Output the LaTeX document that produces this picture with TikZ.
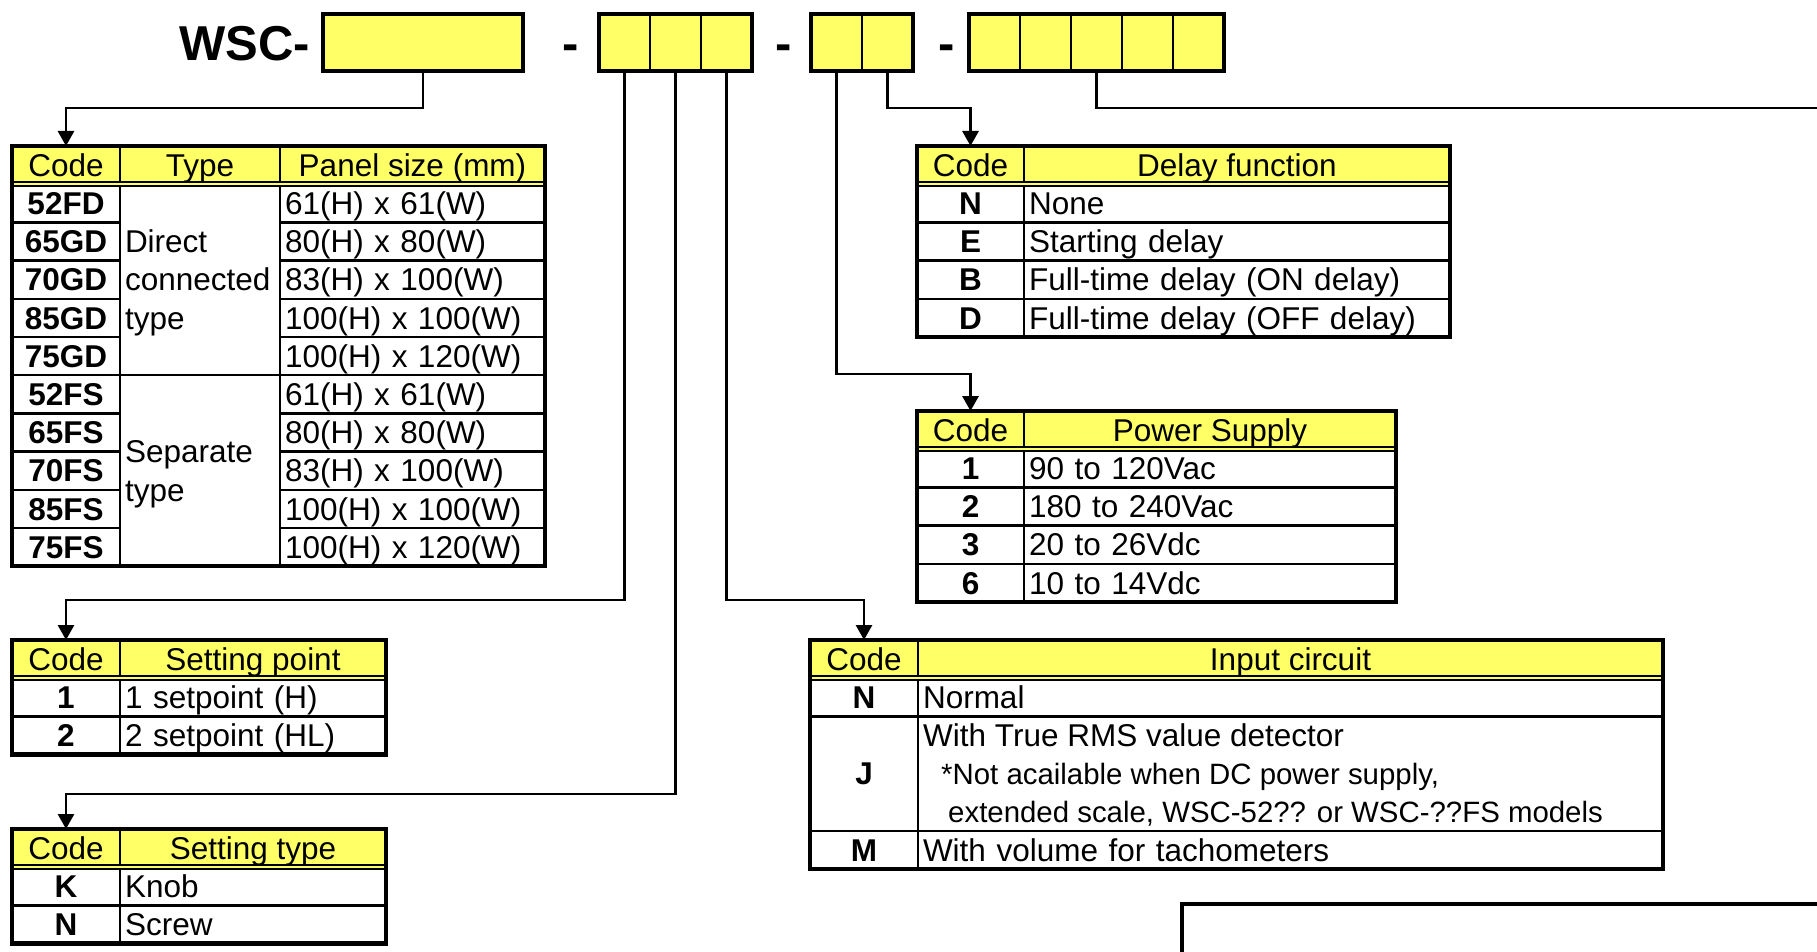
\documentclass[tikz,border=0pt]{standalone}
\usepackage{fontspec}
\setmainfont{Liberation Sans}
\usetikzlibrary{arrows.meta,fit}
\definecolor{hdr}{RGB}{255,255,102}
\newcommand{\tabfont}{\fontsize{31.5}{38.2}\selectfont}
\newcommand{\notefont}{\fontsize{29.4}{38.2}\selectfont}
\newcommand{\partfont}{\fontsize{49}{58}\selectfont\bfseries}

\begin{document}
\begin{tikzpicture}[x=1pt,y=-1pt,line join=miter]
    % `slot' is one yellow box of the part number.
    % `head' is a header cell, `cell' a body cell, `key' a bold code cell.
    % `frame' is the thick border round a table, `wire' the connectors.
    \tikzstyle{slot} = [draw,fill=hdr,line width=2.5pt,anchor=north west,minimum width=51pt,minimum height=57pt,inner sep=0pt,outer sep=0pt]
    \tikzstyle{head} = [draw,fill=hdr,line width=2.5pt,anchor=north west,minimum height=38.2pt,inner sep=0pt,outer sep=0pt,font=\tabfont,text height=22.5pt,text depth=0pt]
    \tikzstyle{cell} = [draw,fill=white,line width=2.5pt,anchor=north west,minimum height=38.2pt,inner xsep=5pt,inner ysep=0pt,outer sep=0pt,font=\tabfont,text height=22.5pt,text depth=0pt,align=left]
    \tikzstyle{key} = [cell,font=\tabfont\bfseries,inner xsep=0pt,align=center]
    \tikzstyle{frame} = [draw,line width=4.5pt,inner sep=0pt]
    \tikzstyle{hyph} = [anchor=base,inner sep=0pt,font=\partfont]
    \tikzstyle{lead} = [line width=2.9pt]
    \tikzstyle{wire} = [lead,-{Triangle[length=15pt,width=16pt]}]
    \useasboundingbox (0,0) rectangle (1817,952);
    %
    % Part number
    \node[anchor=base east,inner sep=0pt,font=\partfont] (wsc) at (310,61) {WSC-};
    \node[slot,minimum width=200pt] (sA) at (323,14) {};
    \node[hyph] (dashA) at (571,61) {-};
    \node[slot] (sB1) at (599,14) {};
    \node[slot] (sB2) at (sB1.north east) {};
    \node[slot] (sB3) at (sB2.north east) {};
    \node[hyph] (dashB) at (784,61) {-};
    \node[slot] (sC1) at (811,14) {};
    \node[slot] (sC2) at (sC1.north east) {};
    \node[hyph] (dashC) at (947,61) {-};
    \node[slot] (sD1) at (969,14) {};
    \node[slot] (sD2) at (sD1.north east) {};
    \node[slot] (sD3) at (sD2.north east) {};
    \node[slot] (sD4) at (sD3.north east) {};
    \node[slot] (sD5) at (sD4.north east) {};
    \node[frame,fit=(sA)] (sABox) {};
    \node[frame,fit=(sB1)(sB3)] (sBBox) {};
    \node[frame,fit=(sC1)(sC2)] (sCBox) {};
    \node[frame,fit=(sD1)(sD5)] (sDBox) {};
    %
    % Panel size
    \node[head,minimum width=108pt] (pnHc) at (12,146) {Code};
    \node[head,minimum width=160pt] (pnHt) at (pnHc.north east) {Type};
    \node[head,minimum width=265pt] (pnHs) at (pnHt.north east) {Panel size (mm)};
    \node[key,minimum width=108pt] (pn1c) at (pnHc.south west) {52FD};
    \node[key,minimum width=108pt] (pn2c) at (pn1c.south west) {65GD};
    \node[key,minimum width=108pt] (pn3c) at (pn2c.south west) {70GD};
    \node[key,minimum width=108pt] (pn4c) at (pn3c.south west) {85GD};
    \node[key,minimum width=108pt] (pn5c) at (pn4c.south west) {75GD};
    \node[key,minimum width=108pt] (pn6c) at (pn5c.south west) {52FS};
    \node[key,minimum width=108pt] (pn7c) at (pn6c.south west) {65FS};
    \node[key,minimum width=108pt] (pn8c) at (pn7c.south west) {70FS};
    \node[key,minimum width=108pt] (pn9c) at (pn8c.south west) {85FS};
    \node[key,minimum width=108pt] (pn10c) at (pn9c.south west) {75FS};
    \node[cell,minimum width=160pt,text width=150pt,minimum height=191pt,text depth=76.4pt] (pnT1) at (pn1c.north east) {Direct\\connected\\type};
    \node[cell,minimum width=160pt,text width=150pt,minimum height=191pt,text depth=38.2pt] (pnT2) at (pn6c.north east) {Separate\\type};
    \node[cell,minimum width=265pt,text width=255pt] (pn1s) at (pnHs.south west) {61(H) x 61(W)};
    \node[cell,minimum width=265pt,text width=255pt] (pn2s) at (pn1s.south west) {80(H) x 80(W)};
    \node[cell,minimum width=265pt,text width=255pt] (pn3s) at (pn2s.south west) {83(H) x 100(W)};
    \node[cell,minimum width=265pt,text width=255pt] (pn4s) at (pn3s.south west) {100(H) x 100(W)};
    \node[cell,minimum width=265pt,text width=255pt] (pn5s) at (pn4s.south west) {100(H) x 120(W)};
    \node[cell,minimum width=265pt,text width=255pt] (pn6s) at (pn5s.south west) {61(H) x 61(W)};
    \node[cell,minimum width=265pt,text width=255pt] (pn7s) at (pn6s.south west) {80(H) x 80(W)};
    \node[cell,minimum width=265pt,text width=255pt] (pn8s) at (pn7s.south west) {83(H) x 100(W)};
    \node[cell,minimum width=265pt,text width=255pt] (pn9s) at (pn8s.south west) {100(H) x 100(W)};
    \node[cell,minimum width=265pt,text width=255pt] (pn10s) at (pn9s.south west) {100(H) x 120(W)};
    \draw[line width=6pt] (pnHc.south west) -- (pnHs.south east);
    \draw[hdr,line width=2pt] (pnHc.south west) -- (pnHs.south east);
    \node[frame,fit=(pnHc)(pn10s)] (pnBox) {};
    %
    % Setting point
    \node[head,minimum width=108pt] (spHc) at (12,640) {Code};
    \node[head,minimum width=266pt] (spHd) at (spHc.north east) {Setting point};
    \node[key,minimum width=108pt] (sp1c) at (spHc.south west) {1};
    \node[cell,minimum width=266pt,text width=256pt] (sp1d) at (sp1c.north east) {1 setpoint (H)};
    \node[key,minimum width=108pt] (sp2c) at (sp1c.south west) {2};
    \node[cell,minimum width=266pt,text width=256pt] (sp2d) at (sp2c.north east) {2 setpoint (HL)};
    \draw[line width=6pt] (spHc.south west) -- (spHd.south east);
    \draw[hdr,line width=2pt] (spHc.south west) -- (spHd.south east);
    \node[frame,fit=(spHc)(sp2d)] (spBox) {};
    %
    % Setting type
    \node[head,minimum width=108pt] (stHc) at (12,829) {Code};
    \node[head,minimum width=266pt] (stHd) at (stHc.north east) {Setting type};
    \node[key,minimum width=108pt] (st1c) at (stHc.south west) {K};
    \node[cell,minimum width=266pt,text width=256pt] (st1d) at (st1c.north east) {Knob};
    \node[key,minimum width=108pt] (st2c) at (st1c.south west) {N};
    \node[cell,minimum width=266pt,text width=256pt] (st2d) at (st2c.north east) {Screw};
    \draw[line width=6pt] (stHc.south west) -- (stHd.south east);
    \draw[hdr,line width=2pt] (stHc.south west) -- (stHd.south east);
    \node[frame,fit=(stHc)(st2d)] (stBox) {};
    %
    % Delay function
    \node[head,minimum width=107pt] (dlHc) at (917,146) {Code};
    \node[head,minimum width=426pt] (dlHd) at (dlHc.north east) {Delay function};
    \node[key,minimum width=107pt] (dl1c) at (dlHc.south west) {N};
    \node[cell,minimum width=426pt,text width=416pt] (dl1d) at (dl1c.north east) {None};
    \node[key,minimum width=107pt] (dl2c) at (dl1c.south west) {E};
    \node[cell,minimum width=426pt,text width=416pt] (dl2d) at (dl2c.north east) {Starting delay};
    \node[key,minimum width=107pt] (dl3c) at (dl2c.south west) {B};
    \node[cell,minimum width=426pt,text width=416pt] (dl3d) at (dl3c.north east) {Full-time delay (ON delay)};
    \node[key,minimum width=107pt] (dl4c) at (dl3c.south west) {D};
    \node[cell,minimum width=426pt,text width=416pt] (dl4d) at (dl4c.north east) {Full-time delay (OFF delay)};
    \draw[line width=6pt] (dlHc.south west) -- (dlHd.south east);
    \draw[hdr,line width=2pt] (dlHc.south west) -- (dlHd.south east);
    \node[frame,fit=(dlHc)(dl4d)] (dlBox) {};
    %
    % Power supply
    \node[head,minimum width=107pt] (psHc) at (917,411) {Code};
    \node[head,minimum width=372pt] (psHd) at (psHc.north east) {Power Supply};
    \node[key,minimum width=107pt] (ps1c) at (psHc.south west) {1};
    \node[cell,minimum width=372pt,text width=362pt] (ps1d) at (ps1c.north east) {90 to 120Vac};
    \node[key,minimum width=107pt] (ps2c) at (ps1c.south west) {2};
    \node[cell,minimum width=372pt,text width=362pt] (ps2d) at (ps2c.north east) {180 to 240Vac};
    \node[key,minimum width=107pt] (ps3c) at (ps2c.south west) {3};
    \node[cell,minimum width=372pt,text width=362pt] (ps3d) at (ps3c.north east) {20 to 26Vdc};
    \node[key,minimum width=107pt] (ps4c) at (ps3c.south west) {6};
    \node[cell,minimum width=372pt,text width=362pt] (ps4d) at (ps4c.north east) {10 to 14Vdc};
    \draw[line width=6pt] (psHc.south west) -- (psHd.south east);
    \draw[hdr,line width=2pt] (psHc.south west) -- (psHd.south east);
    \node[frame,fit=(psHc)(ps4d)] (psBox) {};
    %
    % Input circuit
    \node[head,minimum width=108pt] (icHc) at (810,640) {Code};
    \node[head,minimum width=745pt] (icHd) at (icHc.north east) {Input circuit};
    \node[key,minimum width=108pt] (ic1c) at (icHc.south west) {N};
    \node[cell,minimum width=745pt,text width=735pt] (ic1d) at (ic1c.north east) {Normal};
    \node[key,minimum width=108pt,minimum height=114.6pt] (ic2c) at (ic1c.south west) {J};
    \node[cell,minimum width=745pt,minimum height=114.6pt] (ic2d) at (ic2c.north east) {};
    \node[key,minimum width=108pt] (ic3c) at (ic2c.south west) {M};
    \node[cell,minimum width=745pt,text width=735pt] (ic3d) at (ic3c.north east) {With volume for tachometers};
    \node[anchor=base west,inner sep=0pt,font=\tabfont] (ic2a) at (923,746.6) {With True RMS value detector};
    \node[anchor=base west,inner sep=0pt,font=\notefont] (ic2b) at (941,784.4) {*Not acailable when DC power supply,};
    \node[anchor=base west,inner sep=0pt,font=\notefont] (ic2n) at (948,822.4) {extended scale, WSC-52?? or WSC-??FS models};
    \draw[line width=6pt] (icHc.south west) -- (icHd.south east);
    \draw[hdr,line width=2pt] (icHc.south west) -- (icHd.south east);
    \node[frame,fit=(icHc)(ic3d)] (icBox) {};
    %
    % Connectors
    \coordinate (lvA) at (0,108);
    \coordinate (lvB) at (0,374);
    \coordinate (lvC) at (0,600);
    \coordinate (lvD) at (0,794);
    \coordinate (edgeA) at (1817,108);
    \coordinate (edgeB) at (1817,904);
    \coordinate (edgeC) at (1182,952);
    \draw[wire] (sA.south) -- (sA.south |- lvA) -| (pnHc.north);
    \draw[wire] (sB1.south) -- (sB1.south |- lvC) -| (spHc.north);
    \draw[wire] (sB2.south) -- (sB2.south |- lvD) -| (stHc.north);
    \draw[wire] (sB3.south) -- (sB3.south |- lvC) -| (icHc.north);
    \draw[wire] (sC1.south) -- (sC1.south |- lvB) -| (psHc.north);
    \draw[wire] (sC2.south) -- (sC2.south |- lvA) -| (dlHc.north);
    \draw[lead] (sD3.south) |- (edgeA);
    \draw[line width=3.3pt] (edgeB) -| (edgeC);
\end{tikzpicture}
\end{document}
